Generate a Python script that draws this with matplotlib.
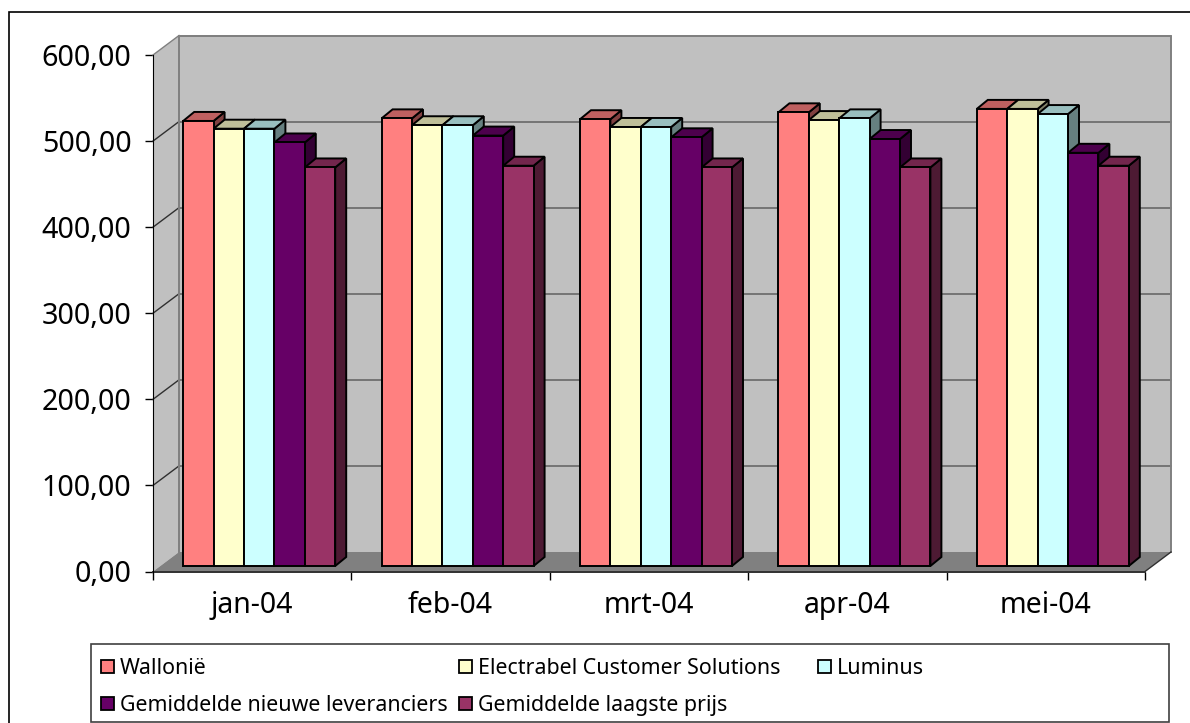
#!/usr/bin/env python3
import numpy as np
import matplotlib as mpl
mpl.use('Agg')
import matplotlib.pyplot as plt
from matplotlib.patches import Rectangle

plt.rcParams['font.family'] = ['Noto Sans', 'DejaVu Sans']

W, H = 1190, 723

months = ['jan-04', 'feb-04', 'mrt-04', 'apr-04', 'mei-04']
wallonie = [517, 520, 519, 527, 531]
electrabel = [508, 512, 510, 518, 531]
luminus = [508, 512, 510, 520, 525]
nieuwe = [492, 500, 498, 496, 480]
laagste = [463, 465, 463, 463, 465]
series = [wallonie, electrabel, luminus, nieuwe, laagste]
names = ['Wallonië', 'Electrabel Customer Solutions', 'Luminus',
         'Gemiddelde nieuwe leveranciers', 'Gemiddelde laagste prijs']
colors = ['#FF8080', '#FFFFCC', '#CCFFFF', '#660066', '#993366']
yticks = [0, 100, 200, 300, 400, 500, 600]

# front plane of the chart in pixels
left, right, bottom, top = 153, 1145, 571.5, 55

fig = plt.figure(figsize=(W / 100, H / 100), dpi=100)
ax = fig.add_axes([left / W, 1 - bottom / H, (right - left) / W, (bottom - top) / H])
ax.set_xlim(0, len(months))
ax.set_ylim(0, 600)
ax.patch.set_visible(False)

# pixel sizes converted to data units
px_x = len(months) / (right - left)
px_y = 600 / (bottom - top)
wall_dx, wall_dy = 26 * px_x, 19.5 * px_y
bar_dx, bar_dy = 11 * px_x, 9 * px_y
shift_x, shift_y = 7 * px_x, 5.5 * px_y
bar_w = 30.4 * px_x
n_cat = len(months)


def shade(color, f):
    return tuple(c * f for c in mpl.colors.to_rgb(color))


# walls and floor
ax.fill([0, wall_dx, wall_dx, 0], [0, wall_dy, 600 + wall_dy, 600],
        color='#C0C0C0', lw=0, clip_on=False, zorder=1)
ax.fill([wall_dx, n_cat + wall_dx, n_cat + wall_dx, wall_dx],
        [wall_dy, wall_dy, 600 + wall_dy, 600 + wall_dy],
        color='#C0C0C0', lw=0, clip_on=False, zorder=1)
ax.fill([0, n_cat, n_cat + wall_dx, wall_dx], [0, 0, wall_dy, wall_dy],
        color='#808080', lw=0, clip_on=False, zorder=1)

for v in yticks[1:]:
    ax.plot([wall_dx, n_cat + wall_dx], [v + wall_dy] * 2, color='#606060', lw=1.1,
            clip_on=False, zorder=2)
    ax.plot([0, wall_dx], [v, v + wall_dy], color='#808080' if v == 600 else '#303030',
            lw=1.0, clip_on=False, zorder=2)
ax.plot([wall_dx, wall_dx, n_cat + wall_dx, n_cat + wall_dx],
        [wall_dy, 600 + wall_dy, 600 + wall_dy, wall_dy],
        color='#808080', lw=1.4, clip_on=False, zorder=2)
ax.plot([n_cat, n_cat + wall_dx], [0, wall_dy], color='#303030', lw=1.0,
        clip_on=False, zorder=2)

# bars, painted left to right so each one hides the side of the previous
z = 3
for i in range(n_cat):
    x0 = i + 0.5 - 2.5 * bar_w + shift_x
    for s, vals in enumerate(series):
        x = x0 + s * bar_w
        v = vals[i]
        base = shift_y
        edge = dict(edgecolor='black', linewidth=1.4, clip_on=False, zorder=z)
        ax.fill([x + bar_w, x + bar_w + bar_dx, x + bar_w + bar_dx, x + bar_w],
                [base, base + bar_dy, base + v + bar_dy, base + v],
                facecolor=shade(colors[s], 0.5), **edge)
        ax.fill([x, x + bar_w, x + bar_w + bar_dx, x + bar_dx],
                [base + v, base + v, base + v + bar_dy, base + v + bar_dy],
                facecolor=shade(colors[s], 0.75), **edge)
        ax.bar(x, v, bar_w, bottom=base, align='edge', color=colors[s], **edge)
        z += 1

ax.set_yticks(yticks)
ax.set_yticklabels([f'{v:.2f}'.replace('.', ',') for v in yticks], fontsize=20.7)
ax.set_xticks(range(n_cat + 1))
ax.set_xticklabels([])
ax.set_xticks(np.arange(n_cat) + 0.5, months, minor=True, fontsize=20.5)
ax.tick_params(axis='x', which='minor', length=0, pad=14)
ax.tick_params(axis='x', which='major', length=6, width=1, color='black')
ax.tick_params(axis='y', length=6, width=1, color='black', pad=9.5, labelcolor='black')
for name in ('top', 'right'):
    ax.spines[name].set_visible(False)
ax.spines['left'].set_zorder(500)
ax.spines['bottom'].set_zorder(2)
ax.spines['bottom'].set_color('#303030')
ax.spines['bottom'].set_linewidth(1.4)

# outer frame runs off the picture on the right and at the bottom
fig.add_artist(Rectangle((9 / W, -5 / H), (W + 20) / W, (H - 11.5 + 5) / H,
                         transform=fig.transFigure, fc='none', ec='black', lw=1.2))
# legend box
fig.add_artist(Rectangle((91 / W, 1 - 722 / H), (1169 - 91) / W, 78 / H,
                         transform=fig.transFigure, fc='white', ec='#404040', lw=1.2))
legend_x = [101, 459, 818, 101, 459]
legend_y = [666, 666, 666, 703, 703]
for k in range(len(names)):
    fig.add_artist(Rectangle((legend_x[k] / W, 1 - (legend_y[k] + 6.5) / H), 13 / W, 13 / H,
                             transform=fig.transFigure, fc=colors[k], ec='black', lw=1.3))
    fig.text((legend_x[k] + 19) / W, 1 - legend_y[k] / H, names[k], fontsize=15.4,
             va='center_baseline', ha='left', color='black')

fig.savefig('out.png', dpi=100, facecolor='white')
